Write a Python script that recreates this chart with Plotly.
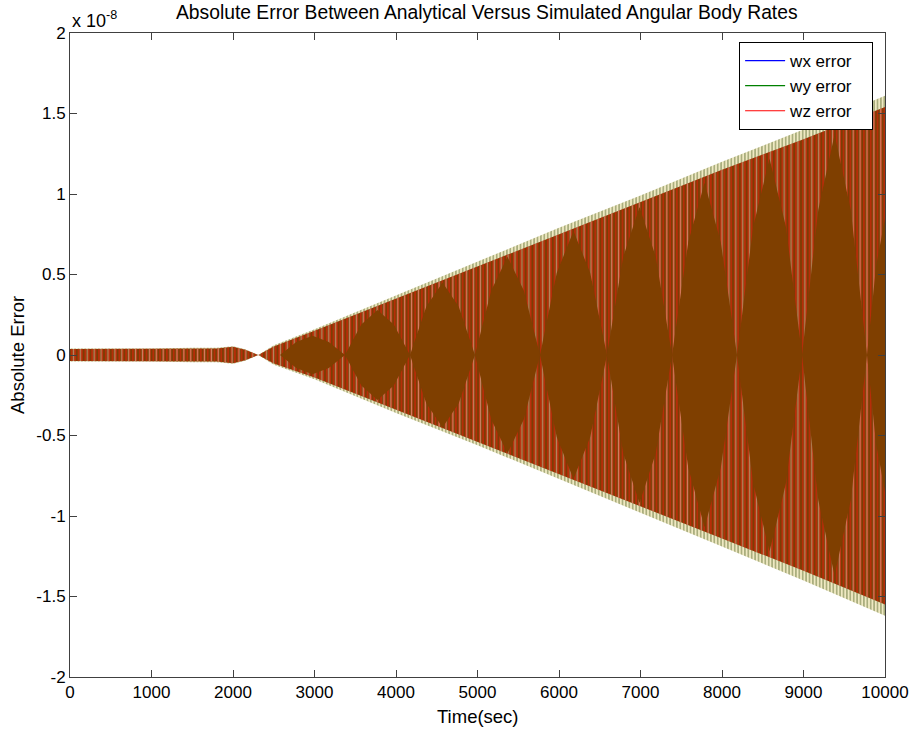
import plotly.graph_objects as go

# values in units of 1e-8 (axis shows "x 10^-8")
# outer envelope (wy error, green)
t_env = [0, 500, 1000, 1500, 1800, 2000, 2150, 2310, 2500, 3000, 4000, 5000, 6000, 7000, 8000, 9000, 10000]
wy_upper = [0.040, 0.040, 0.040, 0.045, 0.045, 0.055, 0.035, 0.0, 0.06, 0.16, 0.37, 0.58, 0.79, 0.99, 1.20, 1.40, 1.61]
wy_lower = [-0.040, -0.040, -0.040, -0.045, -0.045, -0.055, -0.035, 0.0, -0.06, -0.15, -0.36, -0.56, -0.77, -0.98, -1.19, -1.40, -1.62]

# wz error (red) envelope, slightly inside the green one
wz_upper = [0.037, 0.037, 0.037, 0.041, 0.041, 0.051, 0.032, 0.0, 0.053, 0.15, 0.35, 0.555, 0.755, 0.95, 1.15, 1.34, 1.54]
wz_lower = [-0.037, -0.037, -0.037, -0.041, -0.041, -0.051, -0.032, 0.0, -0.053, -0.14, -0.34, -0.535, -0.735, -0.94, -1.14, -1.34, -1.55]

# wx error (dense beat "diamonds") boundary
wx_t = [2310, 2577, 2776, 2976, 3175, 3374, 3574, 3773, 3973, 4172, 4371, 4571, 4770, 4969,
        5169, 5368, 5568, 5767, 5972, 6178, 6383, 6589, 6788, 6988, 7187, 7387, 7586, 7786,
        7985, 8184, 8384, 8583, 8783, 8982, 9181, 9381, 9580, 9779, 9890, 10000]
wx_upper = [0.0, 0.0, 0.08, 0.12, 0.08, 0.0, 0.19, 0.28, 0.19, 0.0, 0.30, 0.45, 0.30, 0.0,
            0.40, 0.61, 0.40, 0.0, 0.51, 0.77, 0.51, 0.0, 0.61, 0.92, 0.61, 0.0, 0.70, 1.07,
            0.70, 0.0, 0.80, 1.22, 0.80, 0.0, 0.90, 1.37, 0.90, 0.0, 0.55, 0.85]
wx_lower = [-v for v in wx_upper]

x_ticks = [0, 1000, 2000, 3000, 4000, 5000, 6000, 7000, 8000, 9000, 10000]
y_ticks = [-2, -1.5, -1, -0.5, 0, 0.5, 1, 1.5, 2]
y_tick_text = ["-2", "-1.5", "-1", "-0.5", "0", "0.5", "1", "1.5", "2"]

series_names = ["wx error", "wy error", "wz error"]
series_colors = ["#0000ff", "#008000", "#ff0000"]

fig = go.Figure()

# wy (green) outer band
fig.add_trace(go.Scatter(
    x=t_env + t_env[::-1], y=wy_upper + wy_lower[::-1],
    mode="lines", line=dict(width=0), fill="toself",
    fillcolor="#efe9c2",
    fillpattern=dict(shape="|", fgcolor="#56662a", bgcolor="#efe9c2", size=3.4, solidity=0.45),
    hoverinfo="skip", showlegend=False))

# wz (red) band
fig.add_trace(go.Scatter(
    x=t_env + t_env[::-1], y=wz_upper + wz_lower[::-1],
    mode="lines", line=dict(width=0), fill="toself",
    fillcolor="#7c3d04",
    fillpattern=dict(shape="|", fgcolor="#f01e0c", bgcolor="#7c3d04", size=3.4, solidity=0.5),
    hoverinfo="skip", showlegend=False))

# pale stripes inside the red band
fig.add_trace(go.Scatter(
    x=t_env + t_env[::-1], y=wz_upper + wz_lower[::-1],
    mode="lines", line=dict(width=0), fill="toself",
    fillcolor="rgba(0,0,0,0)",
    fillpattern=dict(shape="|", fgcolor="#f6d0bc", bgcolor="rgba(0,0,0,0)", size=6.9, solidity=0.2),
    hoverinfo="skip", showlegend=False))

# wx (brown overlap diamonds)
fig.add_trace(go.Scatter(
    x=wx_t + wx_t[::-1], y=wx_upper + wx_lower[::-1],
    mode="lines", line=dict(width=0), fill="toself",
    fillcolor="#7f3f00", hoverinfo="skip", showlegend=False))

# legend entries
for name, col in zip(series_names, series_colors):
    fig.add_trace(go.Scatter(x=[None], y=[None], mode="lines",
                             name=name + "\u00a0\u00a0\u00a0",
                             line=dict(color=col, width=1.2)))

font = "Liberation Sans, Arial, sans-serif"
axis_common = dict(showgrid=False, zeroline=False, showline=True, linecolor="#404040",
                   linewidth=1, mirror="ticks", ticks="inside", ticklen=7, automargin=False,
                   tickcolor="#404040", tickfont=dict(size=17, color="black", family=font))

fig.update_layout(
    width=915, height=729,
    margin=dict(l=70, r=30, t=33, b=52),
    paper_bgcolor="white", plot_bgcolor="white",
    font=dict(family=font, color="black"),
    title=dict(text="Absolute Error Between Analytical Versus Simulated Angular Body Rates",
               x=0.532, xanchor="center", y=0.983, yanchor="middle",
               font=dict(size=19.3, family=font, color="black")),
    xaxis=dict(range=[0, 10000], tickvals=x_ticks, ticktext=[str(v) for v in x_ticks],
               **axis_common),
    yaxis=dict(range=[-2, 2], tickvals=y_ticks, ticktext=y_tick_text, **axis_common),
    legend=dict(x=0.821, y=0.986, xanchor="left", yanchor="top",
                bgcolor="white", bordercolor="black", borderwidth=1,
                font=dict(size=17, family=font, color="black"), itemwidth=40,
                tracegroupgap=0),
    showlegend=True,
    annotations=[
        dict(text="x 10<sup>-8</sup>", xref="paper", yref="paper", x=0, y=1,
             xanchor="left", yanchor="bottom", yshift=0, showarrow=False,
             font=dict(size=18, family=font, color="black")),
        dict(text="Absolute Error", xref="paper", yref="paper", x=0, y=0.5,
             xanchor="center", yanchor="middle", xshift=-53, textangle=-90, showarrow=False,
             font=dict(size=18.5, family=font, color="black")),
        dict(text="Time(sec)", xref="paper", yref="paper", x=0.5, y=0,
             xanchor="center", yanchor="middle", yshift=-39, showarrow=False,
             font=dict(size=18.5, family=font, color="black")),
    ],
)

fig.write_html("out.html")
